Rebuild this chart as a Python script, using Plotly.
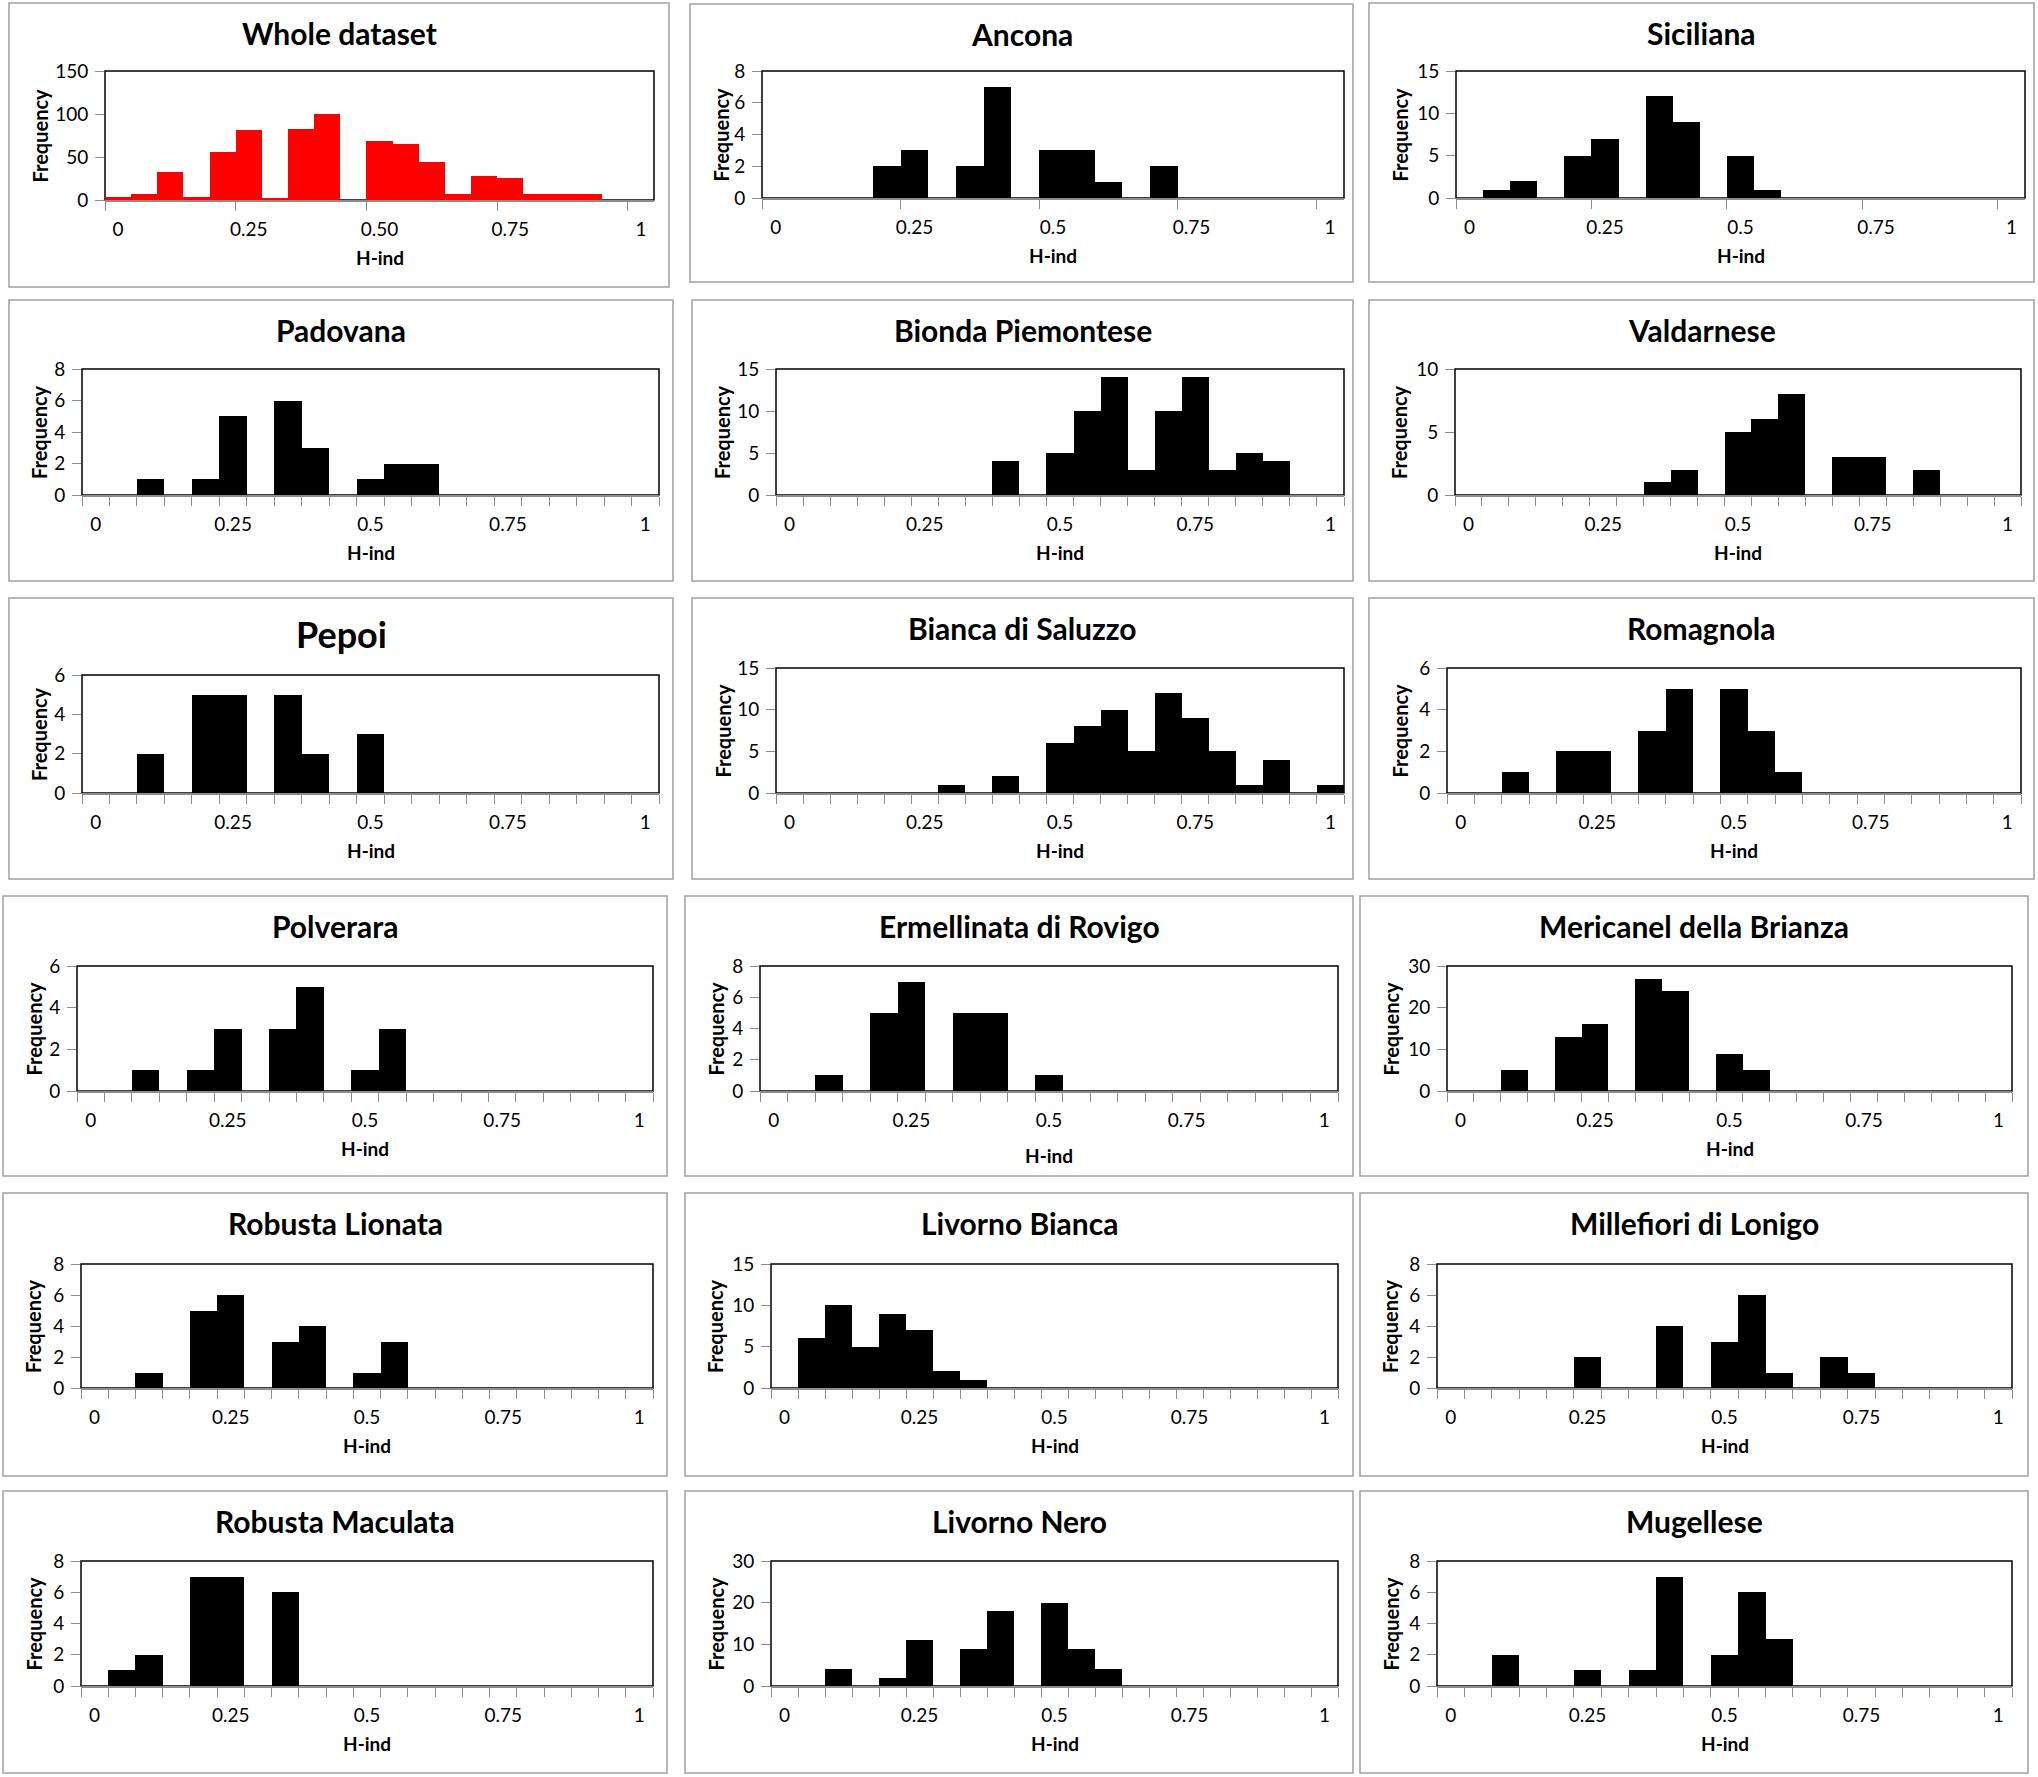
import plotly.graph_objects as go

# bin labels (upper limit of each H-ind class)
BINS = [0, 0.05, 0.1, 0.15, 0.2, 0.25, 0.3, 0.35, 0.4, 0.45, 0.5,
        0.55, 0.6, 0.65, 0.7, 0.75, 0.8, 0.85, 0.9, 0.95, 1]

NAMES = ["Whole dataset", "Ancona", "Siciliana",
         "Padovana", "Bionda Piemontese", "Valdarnese",
         "Pepoi", "Bianca di Saluzzo", "Romagnola",
         "Polverara", "Ermellinata di Rovigo", "Mericanel della Brianza",
         "Robusta Lionata", "Livorno Bianca", "Millefiori di Lonigo",
         "Robusta Maculata", "Livorno Nero", "Mugellese"]

whole_dataset = [4, 7, 32, 4, 56, 81, 2, 83, 100, 0, 69, 65, 44, 7, 28, 26, 7, 7, 7, 0, 0]
ancona = [0, 0, 0, 0, 2, 3, 0, 2, 7, 0, 3, 3, 1, 0, 2, 0, 0, 0, 0, 0, 0]
siciliana = [0, 1, 2, 0, 5, 7, 0, 12, 9, 0, 5, 1, 0, 0, 0, 0, 0, 0, 0, 0, 0]
padovana = [0, 0, 1, 0, 1, 5, 0, 6, 3, 0, 1, 2, 2, 0, 0, 0, 0, 0, 0, 0, 0]
bionda_piemontese = [0, 0, 0, 0, 0, 0, 0, 0, 4, 0, 5, 10, 14, 3, 10, 14, 3, 5, 4, 0, 0]
valdarnese = [0, 0, 0, 0, 0, 0, 0, 1, 2, 0, 5, 6, 8, 0, 3, 3, 0, 2, 0, 0, 0]
pepoi = [0, 0, 2, 0, 5, 5, 0, 5, 2, 0, 3, 0, 0, 0, 0, 0, 0, 0, 0, 0, 0]
bianca_di_saluzzo = [0, 0, 0, 0, 0, 0, 1, 0, 2, 0, 6, 8, 10, 5, 12, 9, 5, 1, 4, 0, 1]
romagnola = [0, 0, 1, 0, 2, 2, 0, 3, 5, 0, 5, 3, 1, 0, 0, 0, 0, 0, 0, 0, 0]
polverara = [0, 0, 1, 0, 1, 3, 0, 3, 5, 0, 1, 3, 0, 0, 0, 0, 0, 0, 0, 0, 0]
ermellinata_di_rovigo = [0, 0, 1, 0, 5, 7, 0, 5, 5, 0, 1, 0, 0, 0, 0, 0, 0, 0, 0, 0, 0]
mericanel_della_brianza = [0, 0, 5, 0, 13, 16, 0, 27, 24, 0, 9, 5, 0, 0, 0, 0, 0, 0, 0, 0, 0]
robusta_lionata = [0, 0, 1, 0, 5, 6, 0, 3, 4, 0, 1, 3, 0, 0, 0, 0, 0, 0, 0, 0, 0]
livorno_bianca = [0, 6, 10, 5, 9, 7, 2, 1, 0, 0, 0, 0, 0, 0, 0, 0, 0, 0, 0, 0, 0]
millefiori_di_lonigo = [0, 0, 0, 0, 0, 2, 0, 0, 4, 0, 3, 6, 1, 0, 2, 1, 0, 0, 0, 0, 0]
robusta_maculata = [0, 1, 2, 0, 7, 7, 0, 6, 0, 0, 0, 0, 0, 0, 0, 0, 0, 0, 0, 0, 0]
livorno_nero = [0, 0, 4, 0, 2, 11, 0, 9, 18, 0, 20, 9, 4, 0, 0, 0, 0, 0, 0, 0, 0]
mugellese = [0, 0, 2, 0, 0, 1, 0, 1, 7, 0, 2, 6, 3, 0, 0, 0, 0, 0, 0, 0, 0]

SERIES = [whole_dataset, ancona, siciliana, padovana, bionda_piemontese, valdarnese,
          pepoi, bianca_di_saluzzo, romagnola, polverara, ermellinata_di_rovigo,
          mericanel_della_brianza, robusta_lionata, livorno_bianca, millefiori_di_lonigo,
          robusta_maculata, livorno_nero, mugellese]

Y_MAX = [150, 8, 15, 8, 15, 10, 6, 15, 6, 6, 8, 30, 8, 15, 8, 8, 30, 8]
Y_STEP = [50, 2, 5, 2, 5, 5, 2, 5, 2, 2, 2, 10, 2, 5, 2, 2, 10, 2]

X_TICKS = [0, 0.25, 0.5, 0.75, 1]
X_TEXT_FIRST = ["0", "0.25", "0.50", "0.75", "1"]
X_TEXT = ["0", "0.25", "0.5", "0.75", "1"]

W, H = 2038, 1777

# panel frames (px): x0, x1, y0, y1
panels = [
    (9, 669, 3, 287), (690, 1353, 4, 282), (1369, 2034, 3, 282),
    (9, 673, 300, 581), (692, 1353, 300, 581), (1369, 2034, 300, 581),
    (9, 673, 598, 879), (692, 1353, 598, 879), (1369, 2034, 598, 879),
    (3, 667, 896, 1176), (685, 1353, 896, 1176), (1360, 2028, 896, 1176),
    (3, 667, 1193, 1476), (685, 1353, 1193, 1476), (1360, 2028, 1193, 1476),
    (3, 667, 1491, 1773), (685, 1353, 1491, 1773), (1360, 2028, 1491, 1773),
]
# plot areas (px): x0, x1, y0, y1
plots = [
    (105, 654, 71, 200), (762, 1344, 71, 198), (1456, 2025, 71, 198),
    (82, 659, 369, 495), (776, 1344, 369, 495), (1455, 2021, 369, 495),
    (82, 659, 675, 793), (776, 1344, 668, 793), (1447, 2021, 668, 793),
    (77, 653, 966, 1091), (760, 1338, 966, 1091), (1447, 2012, 966, 1091),
    (81, 653, 1264, 1388), (771, 1338, 1264, 1388), (1437, 2012, 1264, 1388),
    (81, 653, 1561, 1686), (771, 1338, 1561, 1686), (1437, 2012, 1561, 1686),
]

FONT = "Lato"
GRAY = "#8c8c8c"


def px(x):
    return x / W


def py(y):
    return 1 - y / H


fig = go.Figure()
shapes = []
annotations = []
layout = {}

for i, (name, vals) in enumerate(zip(NAMES, SERIES)):
    n = i + 1
    xa = "x" if n == 1 else "x%d" % n
    ya = "y" if n == 1 else "y%d" % n
    color = "#ff0000" if i == 0 else "#000000"
    fig.add_trace(go.Bar(x=BINS, y=vals, xaxis=xa, yaxis=ya,
                         marker=dict(color=color, line=dict(width=0)),
                         showlegend=False, hoverinfo="x+y"))

    bx0, bx1, by0, by1 = plots[i]
    first_row = i < 3
    layout["xaxis" if n == 1 else "xaxis%d" % n] = dict(
        domain=[px(bx0), px(bx1)], anchor=ya, range=[-0.025, 1.025],
        tickmode="array", tickvals=X_TICKS,
        ticktext=X_TEXT_FIRST if i == 0 else X_TEXT,
        ticks="", showgrid=False, zeroline=False, automargin=False,
        showline=True, linecolor=GRAY, linewidth=1.5,
        tickfont=dict(family=FONT, size=19, color="#000000"),
        ticklabelstandoff=11,
        minor=dict(tickmode="linear", tick0=-0.025,
                   dtick=0.25 if first_row else 0.05,
                   ticks="outside", ticklen=9, tickcolor=GRAY, tickwidth=1.3,
                   showgrid=False),
    )
    layout["yaxis" if n == 1 else "yaxis%d" % n] = dict(
        domain=[py(by1), py(by0)], anchor=xa, range=[0, Y_MAX[i]],
        tickmode="linear", tick0=0, dtick=Y_STEP[i],
        ticks="outside", ticklen=9, tickcolor=GRAY, tickwidth=1.3,
        showgrid=False, zeroline=False, showline=False, automargin=False,
        tickfont=dict(family=FONT, size=19, color="#000000"),
        ticklabelstandoff=3,
    )

    # plot area frame
    shapes.append(dict(type="rect", xref="paper", yref="paper",
                       x0=px(bx0), x1=px(bx1), y0=py(by1), y1=py(by0),
                       line=dict(color="#000000", width=1.5), layer="below"))
    # chart frame
    fx0, fx1, fy0, fy1 = panels[i]
    shapes.append(dict(type="rect", xref="paper", yref="paper",
                       x0=px(fx0), x1=px(fx1), y0=py(fy1), y1=py(fy0),
                       line=dict(color="#a0a0a0", width=1.5), layer="below"))

    # title
    pepoi = name == "Pepoi"
    annotations.append(dict(text="<b>%s</b>" % name, xref="paper", yref="paper",
                            x=px((fx0 + fx1) / 2), y=py(fy0 + (36 if pepoi else 30)),
                            xanchor="center", yanchor="middle", showarrow=False,
                            font=dict(family=FONT, size=36 if pepoi else 30, color="#000000")))
    # axis titles
    annotations.append(dict(text="<b>H-ind</b>", xref="paper", yref="paper",
                            x=px((bx0 + bx1) / 2),
                            y=py(by1 + (64 if name == "Ermellinata di Rovigo" else 57)),
                            xanchor="center", yanchor="middle", showarrow=False,
                            font=dict(family=FONT, size=19, color="#000000")))
    annotations.append(dict(text="<b>Frequency</b>", xref="paper", yref="paper",
                            x=px(fx0 + 30), y=py((by0 + by1) / 2), textangle=-90,
                            xanchor="center", yanchor="middle", showarrow=False,
                            font=dict(family=FONT, size=20, color="#000000")))

fig.update_layout(
    width=W, height=H,
    margin=dict(l=0, r=0, t=0, b=0),
    paper_bgcolor="#ffffff", plot_bgcolor="rgba(0,0,0,0)",
    bargap=0, barmode="overlay",
    shapes=shapes, annotations=annotations,
    **layout,
)

pin = ("document.body.style.margin='0';document.body.style.padding='0';"
       "document.body.style.overflow='hidden';")

fig.write_html("out.html", config={"displayModeBar": False}, post_script=pin)
